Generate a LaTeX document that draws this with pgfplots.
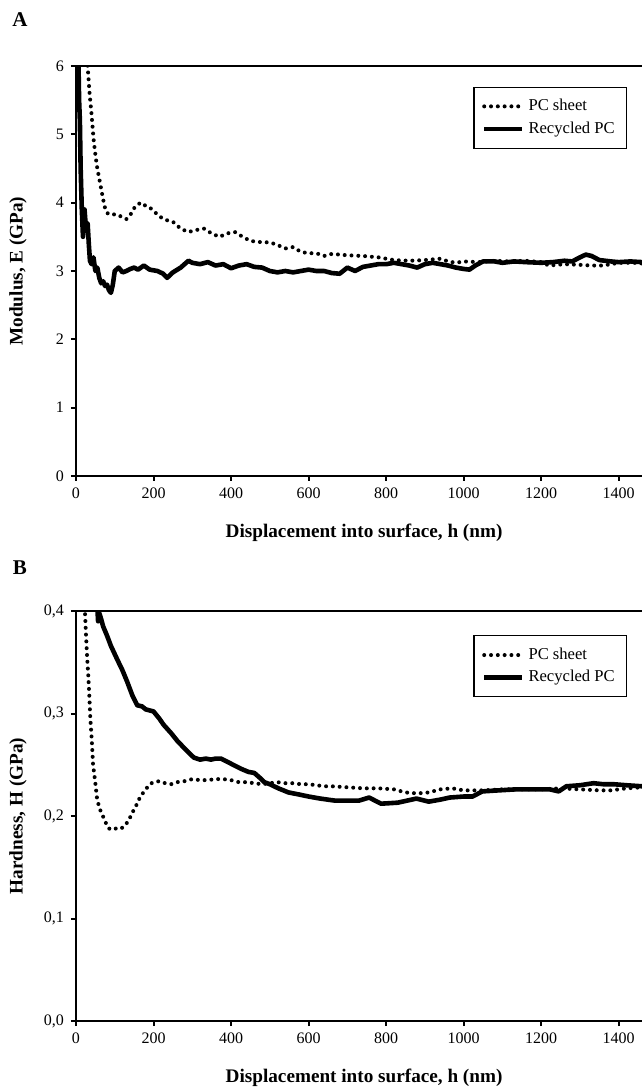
\documentclass[border=0pt]{standalone}
\usepackage{fontspec}
\setmainfont{Liberation Serif}
\usepackage{pgfplots}
\pgfplotsset{compat=1.18}
\pgfplotsset{
  common/.style={
    scale only axis, width=283pt, height=205pt,
    xmin=0, xmax=1460, xtick={0,200,...,1400},
    axis x line*=box, axis y line*=left,
    xtick pos=left, ytick pos=left,
    tick align=outside, major tick length=2.5pt,
    axis line style={line width=1pt, black},
    tick style={line width=1pt, black},
    tick label style={font=\fontsize{8}{9.5}\selectfont},
    /pgf/number format/assume math mode=true,
    /pgf/number format/1000 sep={},
    xlabel={Displacement into surface, h (nm)},
    every axis x label/.style={at={(axis description cs:0.509,-0.139)}, anchor=center,
      font=\bfseries\fontsize{9.6}{11}\selectfont},
    every axis y label/.style={at={(axis description cs:-0.1025,0.5)}, rotate=90, anchor=center,
      font=\bfseries\fontsize{9.6}{11}\selectfont},
    legend cell align=left,
    legend image code/.code={\draw[##1] (0pt,0pt) -- (19pt,0pt);},
    legend style={anchor=north west, draw=black, line width=0.6pt,
      font=\fontsize{8.3}{10.5}\selectfont, inner xsep=4pt, inner ysep=4pt},
  },
  pcsheet/.style={black, line width=2pt, dash pattern=on 0pt off 3.4pt, line cap=round},
  recycled/.style={black, line width=2.3pt, line join=round},
}
\begin{document}
\begin{tikzpicture}
\useasboundingbox (-38pt,-34pt) rectangle (283pt,510.5pt);
\begin{axis}[common, at={(0pt,272.5pt)}, anchor=south west,
  ymin=0, ymax=6, ytick={0,1,...,6},
  ylabel={Modulus, E (GPa)},
  legend style={at={(rel axis cs:0.702,0.95)}}]
\addplot[pcsheet] coordinates {
(25,6.8) (30,6.0) (35,5.6) (40,5.3) (45,4.95) (50,4.7) (55,4.5) (60,4.35) (65,4.2) (70,4.05)
(75,3.92) (80,3.85) (90,3.82) (100,3.83) (110,3.82) (120,3.78) (130,3.76) (140,3.82) (150,3.92)
(160,3.98) (170,4.0) (180,3.95) (190,3.93) (200,3.88) (215,3.8) (230,3.75) (250,3.72) (270,3.62)
(290,3.57) (310,3.6) (330,3.62) (350,3.55) (370,3.5) (390,3.55) (410,3.57) (430,3.5) (450,3.44)
(480,3.42) (500,3.42) (520,3.38) (540,3.33) (560,3.35) (580,3.28) (600,3.26) (620,3.26) (640,3.22)
(660,3.25) (700,3.23) (740,3.22) (780,3.2) (820,3.16) (860,3.15) (900,3.16) (940,3.18) (960,3.14)
(980,3.12) (1000,3.14) (1040,3.13) (1080,3.15) (1120,3.14) (1160,3.15) (1200,3.13) (1220,3.08)
(1260,3.1) (1300,3.09) (1330,3.08) (1360,3.08) (1400,3.12) (1440,3.12) (1460,3.11)
};
\addlegendentry{PC sheet}
\addplot[recycled] coordinates {
(0,7) (5,6.5) (8,5.5) (10,5.2) (12,4.5) (15,3.9) (18,3.5) (22,3.9) (26,3.6) (30,3.7) (33,3.4)
(36,3.15) (40,3.1) (45,3.2) (50,3.0) (55,3.05) (60,2.9) (65,2.82) (70,2.85) (75,2.78) (80,2.8)
(85,2.72) (90,2.68) (95,2.8) (100,3.0) (110,3.05) (120,2.98) (130,3.0) (140,3.03) (150,3.05)
(160,3.02) (175,3.08) (190,3.02) (210,3.0) (225,2.96) (235,2.9) (250,2.98) (270,3.05) (290,3.15)
(300,3.12) (320,3.1) (340,3.13) (360,3.08) (380,3.1) (400,3.04) (420,3.08) (440,3.1) (460,3.06)
(480,3.05) (500,3.0) (520,2.98) (540,3.0) (560,2.98) (580,3.0) (600,3.02) (620,3.0) (640,3.0)
(660,2.97) (680,2.96) (700,3.05) (720,3.0) (740,3.06) (760,3.08) (780,3.1) (800,3.1) (820,3.12)
(840,3.1) (860,3.08) (880,3.05) (900,3.1) (920,3.12) (940,3.1) (960,3.08) (980,3.05) (1000,3.03)
(1015,3.02) (1030,3.08) (1050,3.14) (1080,3.14) (1100,3.12) (1130,3.14) (1160,3.13) (1200,3.12)
(1230,3.13) (1260,3.15) (1280,3.14) (1300,3.2) (1315,3.24) (1330,3.22) (1350,3.16) (1380,3.14)
(1400,3.13) (1430,3.14) (1460,3.13)
};
\addlegendentry{Recycled PC}
\end{axis}
\begin{axis}[common, at={(0pt,0pt)}, anchor=south west,
  ymin=0, ymax=0.4, ytick={0,0.1,...,0.4},
  yticklabel style={/pgf/number format/.cd, fixed, fixed zerofill, precision=1, use comma},
  ylabel={Hardness, H (GPa)},
  legend style={at={(rel axis cs:0.702,0.941)}}]
\addplot[pcsheet] coordinates {
(20,0.43) (23,0.40) (26,0.375) (29,0.353) (32,0.335) (34,0.32) (37,0.295) (41,0.272) (44,0.25)
(49,0.235) (54,0.218) (60,0.208) (67,0.202) (75,0.195) (82,0.189) (88,0.187) (100,0.188) (110,0.187)
(122,0.189) (135,0.195) (145,0.203) (155,0.21) (166,0.219) (180,0.226) (190,0.231) (200,0.233)
(215,0.234) (230,0.232) (245,0.231) (260,0.233) (280,0.234) (300,0.236) (320,0.235) (340,0.235)
(360,0.236) (380,0.236) (400,0.235) (420,0.233) (440,0.233) (460,0.232) (480,0.231) (500,0.232)
(520,0.233) (540,0.232) (560,0.232) (580,0.231) (600,0.231) (620,0.23) (640,0.229) (660,0.229)
(700,0.228) (740,0.227) (780,0.227) (820,0.226) (850,0.223) (880,0.222) (910,0.223) (940,0.226)
(970,0.227) (1000,0.225) (1050,0.225) (1100,0.226) (1150,0.226) (1200,0.226) (1250,0.227)
(1300,0.226) (1350,0.225) (1380,0.225) (1420,0.227) (1460,0.228)
};
\addlegendentry{PC sheet}
\addplot[recycled] coordinates {
(50,0.42) (55,0.403) (57,0.39) (60,0.398) (65,0.392) (70,0.385) (80,0.376) (90,0.366) (106,0.353)
(120,0.342) (132,0.331) (145,0.318) (158,0.308) (170,0.307) (180,0.304) (200,0.302) (215,0.295)
(226,0.289) (245,0.281) (262,0.273) (285,0.264) (304,0.257) (320,0.255) (335,0.256) (348,0.255)
(360,0.256) (374,0.256) (390,0.253) (410,0.249) (426,0.246) (445,0.243) (460,0.242) (475,0.237)
(486,0.233) (500,0.231) (522,0.227) (548,0.223) (575,0.221) (600,0.219) (630,0.217) (668,0.215)
(700,0.215) (730,0.215) (756,0.218) (787,0.212) (830,0.213) (878,0.217) (910,0.214) (940,0.216)
(964,0.218) (1000,0.219) (1023,0.219) (1048,0.224) (1090,0.225) (1135,0.226) (1180,0.226)
(1222,0.226) (1245,0.224) (1265,0.229) (1300,0.23) (1335,0.232) (1360,0.231) (1387,0.231)
(1420,0.23) (1460,0.229)
};
\addlegendentry{Recycled PC}
\end{axis}
\node[font=\bfseries\fontsize{10.5}{12}\selectfont] at (-28pt,500.5pt) {A};
\node[font=\bfseries\fontsize{10.5}{12}\selectfont] at (-28pt,226.5pt) {B};
\end{tikzpicture}
\end{document}
